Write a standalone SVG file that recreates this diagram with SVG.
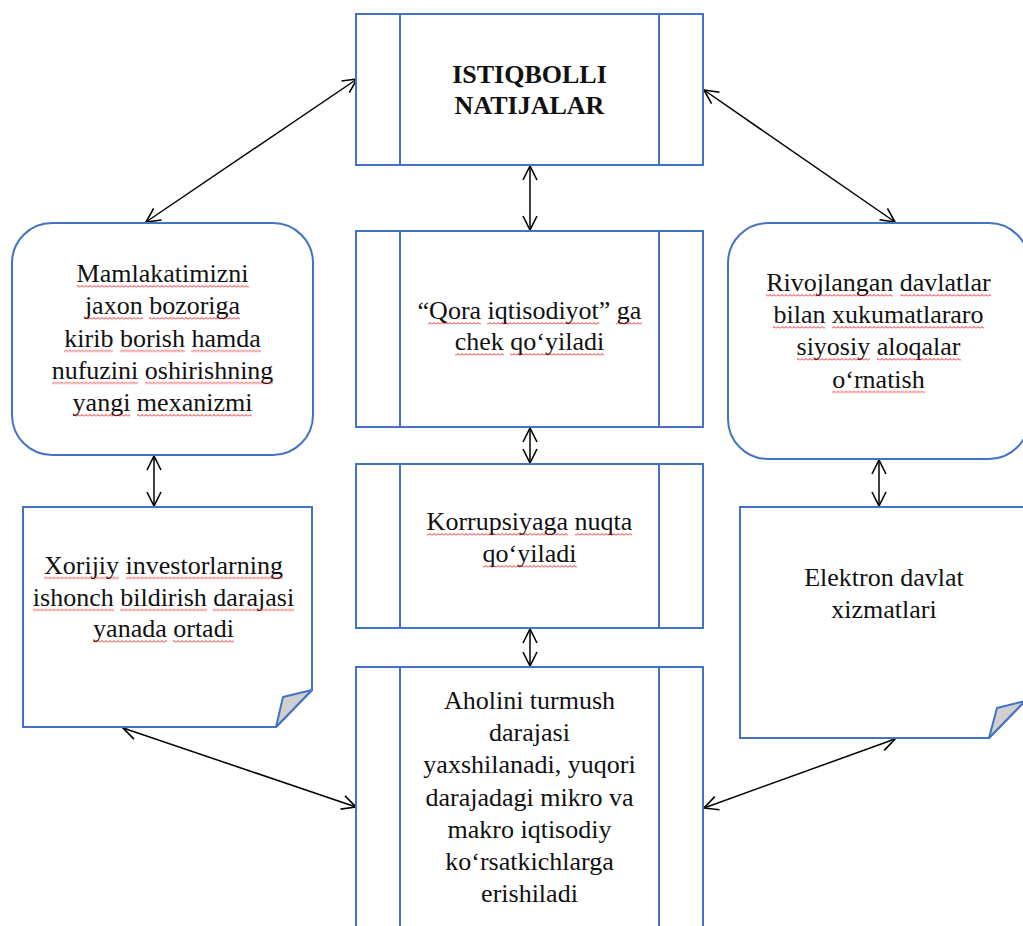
<svg xmlns="http://www.w3.org/2000/svg" width="1023" height="926" viewBox="0 0 1023 926">
<style>
.box{fill:#fff;stroke:#4472C4;stroke-width:2}
.ln{fill:none;stroke:#4472C4;stroke-width:2}
.fold{fill:#d0d0d0;stroke:#4472C4;stroke-width:2;stroke-linejoin:round}
.t{font-family:"Liberation Serif","Times New Roman",serif;font-size:26px;fill:#111;text-anchor:middle}
.b{font-weight:bold}
.con{fill:none;stroke:#000;stroke-width:1.5;marker-start:url(#ah);marker-end:url(#ah)}
.sq{fill:url(#wave)}
</style>
<defs>
<marker id="ah" markerUnits="userSpaceOnUse" markerWidth="20" markerHeight="20" viewBox="-16 -10 20 20" refX="0" refY="0" orient="auto-start-reverse">
<path d="M-14,-7 L0,0 L-14,7" fill="none" stroke="#000" stroke-width="1.6"/>
</marker>
<pattern id="wave" patternUnits="userSpaceOnUse" width="4" height="3">
<path d="M0,2.5 L2,0.5 L4,2.5" fill="none" stroke="#e01010" stroke-width="0.9"/>
</pattern>
</defs>
<rect width="1023" height="926" fill="#fff"/>

<g id="connectors">
<line class="con" x1="357" y1="79" x2="146" y2="222"/>
<line class="con" x1="704" y1="90" x2="895" y2="222"/>
<line class="con" x1="530" y1="166" x2="530" y2="230"/>
<line class="con" x1="530" y1="428" x2="530" y2="463"/>
<line class="con" x1="530" y1="629" x2="530" y2="666"/>
<line class="con" x1="154" y1="456" x2="154" y2="506"/>
<line class="con" x1="879" y1="460" x2="879" y2="506"/>
<line class="con" x1="123" y1="728" x2="356" y2="807"/>
<line class="con" x1="895" y1="739" x2="704" y2="808"/>
</g>

<g id="top">
<rect class="box" x="356" y="14" width="347" height="151"/>
<path class="ln" d="M400,14 V165 M659,14 V165"/>
<text class="t b" x="529.5" y="83">ISTIQBOLLI</text>
<text class="t b" x="529.5" y="114">NATIJALAR</text>
</g>

<g id="qora">
<rect class="box" x="356" y="231" width="347" height="196"/>
<path class="ln" d="M400,231 V427 M659,231 V427"/>
<text class="t" x="529.5" y="319">“Qora iqtisodiyot” ga</text>
<text class="t" x="529.5" y="350">chek qo‘yiladi</text>
<g transform="translate(0,322)"><rect class="sq" x="428" y="0" width="53" height="3"/><rect class="sq" x="487" y="0" width="112" height="3"/><rect class="sq" x="616" y="0" width="26" height="3"/></g>
<g transform="translate(0,353)"><rect class="sq" x="455" y="0" width="49" height="3"/><rect class="sq" x="510" y="0" width="94" height="3"/></g>
</g>

<g id="korrupsiya">
<rect class="box" x="356" y="464" width="347" height="164"/>
<path class="ln" d="M400,464 V628 M659,464 V628"/>
<text class="t" x="529.5" y="530">Korrupsiyaga nuqta</text>
<text class="t" x="529.5" y="562">qo‘yiladi</text>
<g transform="translate(0,533)"><rect class="sq" x="427" y="0" width="141" height="3"/><rect class="sq" x="575" y="0" width="57" height="3"/></g>
<g transform="translate(0,565)"><rect class="sq" x="483" y="0" width="94" height="3"/></g>
</g>

<g id="aholi">
<rect class="box" x="356" y="667" width="347" height="290"/>
<path class="ln" d="M400,667 V940 M659,667 V940"/>
<text class="t" x="529.5" y="709">Aholini turmush</text>
<text class="t" x="529.5" y="741">darajasi</text>
<text class="t" x="529.5" y="773">yaxshilanadi, yuqori</text>
<text class="t" x="529.5" y="805.5">darajadagi mikro va</text>
<text class="t" x="529.5" y="837.5">makro iqtisodiy</text>
<text class="t" x="529.5" y="869.5">ko‘rsatkichlarga</text>
<text class="t" x="529.5" y="901.5">erishiladi</text>
</g>

<g id="mamlakat">
<rect class="box" x="12" y="223" width="301" height="232" rx="40" ry="40"/>
<text class="t" x="162.5" y="282">Mamlakatimizni</text>
<text class="t" x="162.5" y="314">jaxon bozoriga</text>
<text class="t" x="162.5" y="346.5">kirib borish hamda</text>
<text class="t" x="162.5" y="378.5">nufuzini oshirishning</text>
<text class="t" x="162.5" y="411">yangi mexanizmi</text>
<g transform="translate(0,285)"><rect class="sq" x="77" y="0" width="172" height="3"/></g>
<g transform="translate(0,317)"><rect class="sq" x="85" y="0" width="58" height="3"/><rect class="sq" x="149" y="0" width="91" height="3"/></g>
<g transform="translate(0,349.5)"><rect class="sq" x="64" y="0" width="49" height="3"/><rect class="sq" x="120" y="0" width="65" height="3"/><rect class="sq" x="191" y="0" width="70" height="3"/></g>
<g transform="translate(0,381.5)"><rect class="sq" x="52" y="0" width="86" height="3"/><rect class="sq" x="145" y="0" width="128" height="3"/></g>
<g transform="translate(0,414)"><rect class="sq" x="73" y="0" width="57" height="3"/><rect class="sq" x="137" y="0" width="115" height="3"/></g>
</g>

<g id="xorijiy">
<path class="box" d="M23,507 H312 V690 L276,727 H23 Z"/>
<path class="fold" d="M312,690 L283,697 L276,727 Z"/>
<text class="t" x="163.5" y="573.5">Xorijiy investorlarning</text>
<text class="t" x="163.5" y="605.5">ishonch bildirish darajasi</text>
<text class="t" x="163.5" y="637">yanada ortadi</text>
<g transform="translate(0,576.5)"><rect class="sq" x="44" y="0" width="75" height="3"/><rect class="sq" x="126" y="0" width="157" height="3"/></g>
<g transform="translate(0,608.5)"><rect class="sq" x="33" y="0" width="81" height="3"/><rect class="sq" x="120" y="0" width="87" height="3"/><rect class="sq" x="213" y="0" width="81" height="3"/></g>
<g transform="translate(0,640)"><rect class="sq" x="93" y="0" width="74" height="3"/><rect class="sq" x="173" y="0" width="61" height="3"/></g>
</g>

<g id="rivojlangan">
<rect class="box" x="728" y="223" width="301" height="236" rx="40" ry="40"/>
<text class="t" x="878.5" y="291">Rivojlangan davlatlar</text>
<text class="t" x="878.5" y="323">bilan xukumatlararo</text>
<text class="t" x="878.5" y="355">siyosiy aloqalar</text>
<text class="t" x="878.5" y="387.5">o‘rnatish</text>
<g transform="translate(0,294)"><rect class="sq" x="766" y="0" width="127" height="3"/><rect class="sq" x="900" y="0" width="91" height="3"/></g>
<g transform="translate(0,326)"><rect class="sq" x="773" y="0" width="52" height="3"/><rect class="sq" x="832" y="0" width="152" height="3"/></g>
<g transform="translate(0,358)"><rect class="sq" x="797" y="0" width="73" height="3"/><rect class="sq" x="877" y="0" width="84" height="3"/></g>
<g transform="translate(0,390.5)"><rect class="sq" x="832" y="0" width="93" height="3"/></g>
</g>

<g id="elektron">
<path class="box" d="M740,507 H1025 V701 L989,738 H740 Z"/>
<path class="fold" d="M1025,701 L997,708 L989,738 Z"/>
<text class="t" x="884" y="586">Elektron davlat</text>
<text class="t" x="884" y="617.5">xizmatlari</text>
</g>
</svg>
